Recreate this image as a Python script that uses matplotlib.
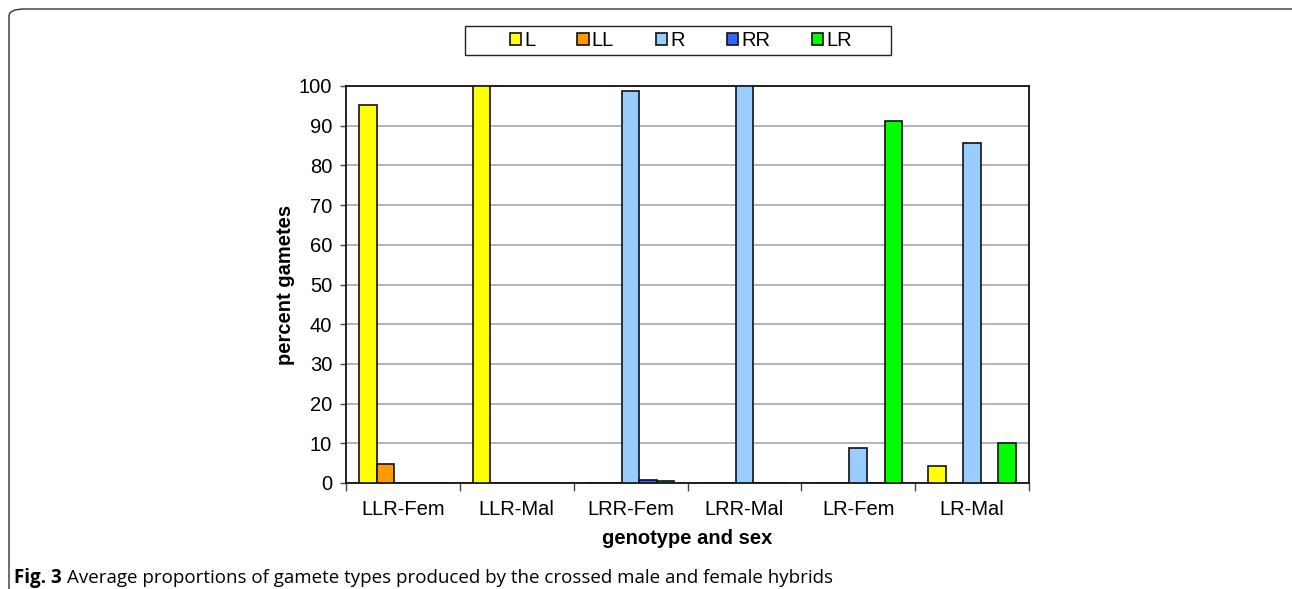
import matplotlib
matplotlib.use("Agg")
import matplotlib.pyplot as plt
import numpy as np
from matplotlib.patches import FancyBboxPatch, Patch, Rectangle

categories = ["LLR-Fem", "LLR-Mal", "LRR-Fem", "LRR-Mal", "LR-Fem", "LR-Mal"]
series_names = ["L", "LL", "R", "RR", "LR"]
L_vals = [95.3, 100.0, 0.0, 0.0, 0.0, 4.4]
LL_vals = [4.8, 0.0, 0.0, 0.0, 0.0, 0.0]
R_vals = [0.0, 0.0, 98.7, 100.0, 8.8, 85.7]
RR_vals = [0.0, 0.0, 0.8, 0.0, 0.0, 0.0]
LR_vals = [0.0, 0.0, 0.6, 0.0, 91.3, 10.2]
colors = ["#FFFF00", "#FF9900", "#99CCFF", "#3366FF", "#00FF00"]
series = [L_vals, LL_vals, R_vals, RR_vals, LR_vals]

plt.rcParams['font.family'] = ['Liberation Sans', 'DejaVu Sans']
FS = 14.5

fig = plt.figure(figsize=(12.92, 5.89), dpi=100)
W, H = 1292, 589
ax = fig.add_axes([346 / W, 1 - 483 / H, (1029 - 346) / W, (483 - 86) / H])

n = len(series)
x = np.arange(len(categories))
bw = 0.154
for i, (vals, c, name) in enumerate(zip(series, colors, series_names)):
    offs = (i - (n - 1) / 2) * bw
    ax.bar(x + offs, vals, width=bw, color=c, edgecolor="#111111",
           linewidth=1.2, label=name, zorder=3)

ax.set_xlim(-0.5, len(categories) - 0.5)
ax.set_ylim(0, 100)
ax.set_yticks(np.arange(0, 101, 10))
ax.yaxis.grid(True, color="#a8a8a8", linewidth=1.2, zorder=0)
ax.set_axisbelow(True)
ax.set_xticks(x)
ax.set_xticklabels(categories, fontsize=FS)
ax.set_xticks(np.arange(-0.5, len(categories) + 0.5, 1), minor=True)
ax.tick_params(axis='x', which='major', length=0, pad=12.5)
ax.tick_params(axis='x', which='minor', length=6, width=1, direction='out', color="#444444")
ax.tick_params(axis='y', labelsize=FS, length=4, width=1, color="#444444", pad=6)
for s in ax.spines.values():
    s.set_linewidth(1.3)
    s.set_color("#111111")
ax.set_ylabel("percent gametes", fontsize=FS, fontweight='bold', labelpad=3)
ax.set_xlabel("genotype and sex", fontsize=FS, fontweight='bold', labelpad=7)

handles = [Patch(facecolor=c, edgecolor="#111111", linewidth=1.2) for c in colors]
leg = fig.legend(handles, series_names, loc='center', ncol=5,
                 bbox_to_anchor=((465 + 891) / 2 / W + 3 / W, 1 - 40.5 / H),
                 fontsize=FS, frameon=False,
                 handlelength=0.55, handleheight=0.55, handletextpad=0.15,
                 columnspacing=2.1, borderpad=0.0, borderaxespad=0)
fig.patches.append(Rectangle((465 / W, 1 - 55 / H), (891 - 465) / W, 29 / H,
                             transform=fig.transFigure, facecolor='white',
                             edgecolor="#222222", linewidth=1.0, zorder=0))

box = FancyBboxPatch((9 / W, -0.2), 1.2, 1 - 9 / H + 0.2,
                     boxstyle="round,pad=0,rounding_size=0.012",
                     transform=fig.transFigure, facecolor='none',
                     edgecolor="#333333", linewidth=1.0)
fig.patches.append(box)

cap_y = 1 - 578 / H
t1 = fig.text(14 / W, cap_y, "Fig. 3", fontsize=13.5, fontweight='bold',
              family=['Open Sans', 'DejaVu Sans'], va='center', ha='left',
              fontstretch='condensed')
fig.canvas.draw()
bb = t1.get_window_extent()
fig.text((bb.x1 + 5) / W, cap_y,
         "Average proportions of gamete types produced by the crossed male and female hybrids",
         fontsize=13.5, family=['Open Sans', 'DejaVu Sans'], va='center', ha='left',
         fontstretch='semi-condensed')

fig.savefig("out.png", dpi=100)
